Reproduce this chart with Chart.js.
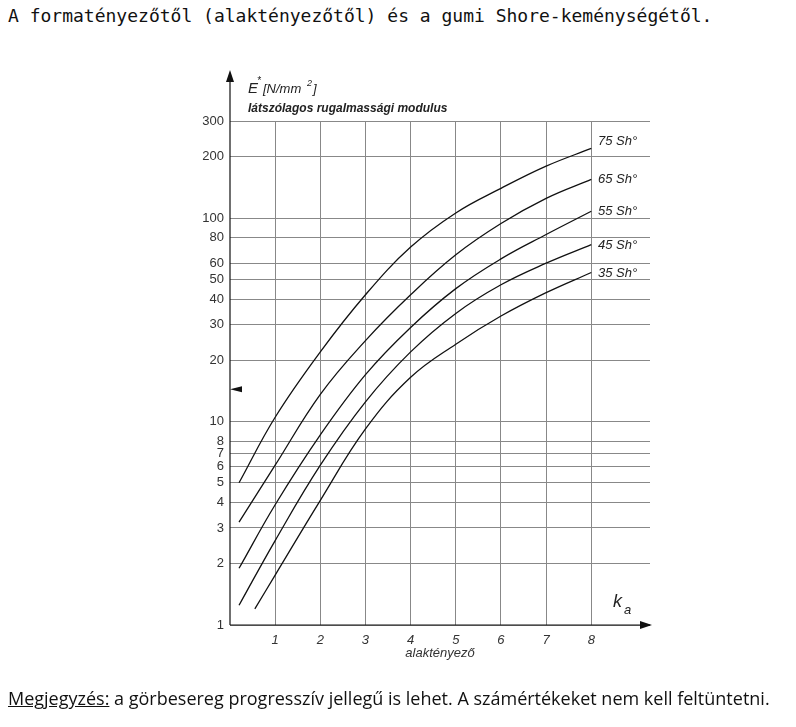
<!DOCTYPE html><html><head><meta charset="utf-8">
<script src="https://cdn.jsdelivr.net/npm/chart.js@4"></script>
<style>body{margin:0;background:#fff;width:796px;height:727px;position:relative;overflow:hidden}
#t{position:absolute;left:8px;top:5px;font:18px "DejaVu Sans Mono";color:#111}
#n{position:absolute;left:8px;top:686px;font:18px "Open Sans";color:#111}
canvas{position:absolute;left:0;top:0}</style></head><body>
<div id="t">A formatényezőtől (alaktényezőtől) és a gumi Shore-keménységétől.</div>
<canvas id="c" width="796" height="727"></canvas>
<div id="n"><u>Megjegyzés:</u> a görbesereg progresszív jellegű is lehet. A számértékeket nem kell feltüntetni.</div>
<script>
const xs=[0.2,1,2,3,4,5,6,7,8];
const sh75=[5,10.5,22,42,72,106,140,180,220];
const sh65=[3.2,6.1,13.6,25,42,66,94,125,155];
const sh55=[1.9,3.9,8.6,17,29,45,63,83,108];
const sh45=[1.25,2.6,6.1,12.5,22,34,47,60,74];
const xs35=[0.55,1,2,3,4,5,6,7,8];
const sh35=[1.2,1.76,4.1,9.2,16.5,24,33,43,54];
const seriesNames=['75 Sh°','65 Sh°','55 Sh°','45 Sh°','35 Sh°'];
const yTicks=[1,2,3,4,5,6,7,8,10,20,30,40,50,60,80,100,200,300];
const xTicks=[1,2,3,4,5,6,7,8];
const all=[sh75,sh65,sh55,sh45,sh35];
const ds=all.map((s,i)=>({label:seriesNames[i],data:s.map((v,j)=>({x:(i==4?xs35:xs)[j],y:v})),borderColor:'#111',borderWidth:1.3,pointRadius:0,tension:0.4,fill:false}));
const deco={id:'deco',afterDraw(ch){const c=ch.ctx,a=ch.chartArea,X=ch.scales.x,Y=ch.scales.y;c.save();c.strokeStyle='#111';c.fillStyle='#111';c.lineWidth=1.2;
c.beginPath();c.moveTo(a.left,a.bottom);c.lineTo(a.left,75);c.moveTo(a.left,a.bottom);c.lineTo(650,a.bottom);c.stroke();
c.beginPath();c.moveTo(652,a.bottom);c.lineTo(640,a.bottom-4);c.lineTo(640,a.bottom+4);c.fill();
c.beginPath();c.moveTo(a.left,70);c.lineTo(a.left-4,82);c.lineTo(a.left+4,82);c.fill();
c.beginPath();c.moveTo(a.left,Y.getPixelForValue(14.4));c.lineTo(a.left+12,Y.getPixelForValue(14.4)-3);c.lineTo(a.left+12,Y.getPixelForValue(14.4)+3);c.fill();
c.font='italic 13px Arial';c.fillStyle='#222';
all.forEach((s,i)=>{c.fillText(seriesNames[i],598,Y.getPixelForValue(s[s.length-1])+(i==0?0:4)+(i==0?-3:0));});
c.font='italic 15px Arial';c.fillText('E',248,93);c.font='italic 10px Arial';c.fillText('*',257,84);c.font='italic 13px Arial';c.fillText('[N/mm',263,93);c.font='italic 9px Arial';c.fillText('2',307,86);c.font='italic 13px Arial';c.fillText(']',313,93);
c.font='italic bold 12px Arial';c.fillText('látszólagos rugalmassági modulus',248,112);
c.font='italic 18px Arial';c.fillText('k',613,607);c.font='italic 13px Arial';c.fillText('a',624,614);
c.restore();}};
new Chart(document.getElementById('c'),{type:'line',data:{datasets:ds},plugins:[deco],options:{responsive:false,animation:false,
layout:{padding:{left:170,top:121,bottom:62,right:146}},plugins:{legend:{display:false},tooltip:{enabled:false}},
scales:{x:{type:'linear',min:0,max:9.3,afterFit(s){s.height=40},afterBuildTicks(s){s.ticks=xTicks.map(v=>({value:v}))},
grid:{color:'#888',lineWidth:1,drawTicks:false},border:{display:false},ticks:{color:'#333',font:{family:'Arial',size:13,style:'italic'},padding:8},
title:{display:true,text:'alaktényező',color:'#333',font:{family:'Arial',size:13,style:'italic'},padding:{top:0}}},
y:{type:'logarithmic',min:1,max:300,afterFit(s){s.width=60},afterBuildTicks(s){s.ticks=yTicks.map(v=>({value:v}))},
grid:{color:'#888',lineWidth:1,drawTicks:false},border:{display:false},ticks:{color:'#333',font:{family:'Arial',size:13},padding:6,callback:v=>String(v)}}}}});
</script></body></html>
